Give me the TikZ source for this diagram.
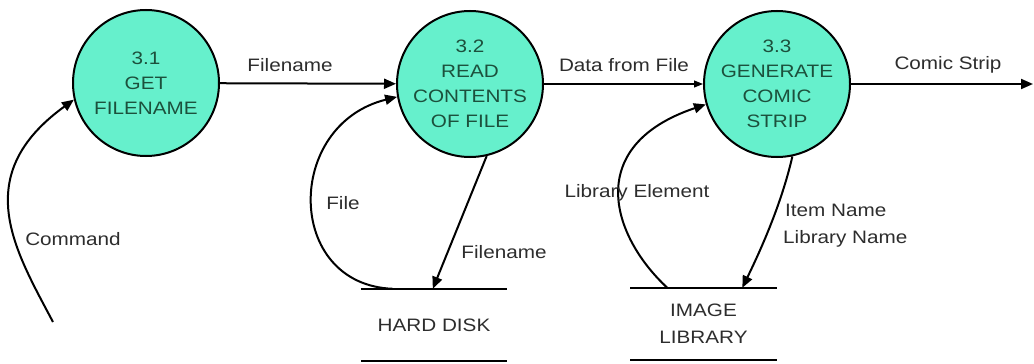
\documentclass[tikz,border=0pt]{standalone}
\usepackage{fontspec}
\setmainfont{Liberation Sans}[FakeStretch=1.15]
\usetikzlibrary{arrows.meta}
\definecolor{procfill}{RGB}{102,240,204}
\definecolor{proctext}{RGB}{28,80,60}
\definecolor{labeltext}{RGB}{45,45,45}
\begin{document}
\begin{tikzpicture}[x=1pt,y=-1pt,
  process/.style={circle,draw=black,line width=2pt,fill=procfill,minimum size=146pt,
    inner sep=0pt,align=center,text=proctext,font=\fontsize{18}{25}\selectfont},
  store/.style={minimum width=146pt,minimum height=72pt,inner sep=0pt,align=center,
    text=labeltext,font=\fontsize{18}{27}\selectfont},
  storeline/.style={line width=2.2pt},
  flow/.style={line width=2pt,-{Triangle[length=12pt,width=10pt]}},
  thinflow/.style={line width=1.1pt,-{Triangle[length=9pt,width=7pt]}},
  lbl/.style={text=labeltext,font=\fontsize{18}{25}\selectfont,inner sep=0pt}]

\useasboundingbox (0,0) rectangle (1034,364);

% processes
\node[process] (c1) at (146,83) {3.1\\GET\\FILENAME};
\node[process] (c2) at (470,84) {3.2\\READ\\CONTENTS\\OF FILE};
\node[process] (c3) at (777,84) {3.3\\GENERATE\\COMIC\\STRIP};

% data stores
\node[store] (hd) at (434,325) {HARD DISK};
\node[store] (il) at (703.5,324) {IMAGE\\LIBRARY};
\draw[storeline] (hd.north west) -- (hd.north east);
\draw[storeline] (hd.south west) -- (hd.south east);
\draw[storeline] (il.north west) -- (il.north east);
\draw[storeline] (il.south west) -- (il.south east);

% free ends
\coordinate (cmdstart) at (53,322);
\coordinate (stripend) at (1033,84);

% data flows
\draw[flow] (c1) -- (c2);
\draw[thinflow] (c2) -- (c3);
\draw[flow] (c3.east) -- (stripend);
\draw[flow] (c2.283) -- ([xshift=72pt]hd.north west);
\draw[flow] (c3.282) .. controls +(-11,48) and +(18,-37) .. ([xshift=112pt]il.north west);
\draw[flow] ([xshift=32pt]hd.north west) .. controls +(-108,-4) and +(-113,28) .. (c2.190);
\draw[flow] ([xshift=37pt]il.north west) .. controls +(-57,-53) and +(-122,41) .. (c3.196);
\draw[flow] (cmdstart) .. controls +(-38,-72) and +(-105,76) .. (c1.193);

% flow labels
\node[lbl] (lfn1) at (290,65) {Filename};
\node[lbl] (ldata) at (624,65) {Data from File};
\node[lbl] (lstrip) at (948,65) {Comic Strip};
\node[lbl] (lfile) at (343,203) {File};
\node[lbl] (lfn2) at (504,252) {Filename};
\node[lbl] (llib) at (637,193) {Library Element};
\node[lbl,anchor=west] (litem) at (785,210) {Item Name};
\node[lbl,anchor=west] (llibname) at (783,239) {Library Name};
\node[lbl] (lcmd) at (73,239) {Command};
\end{tikzpicture}
\end{document}
